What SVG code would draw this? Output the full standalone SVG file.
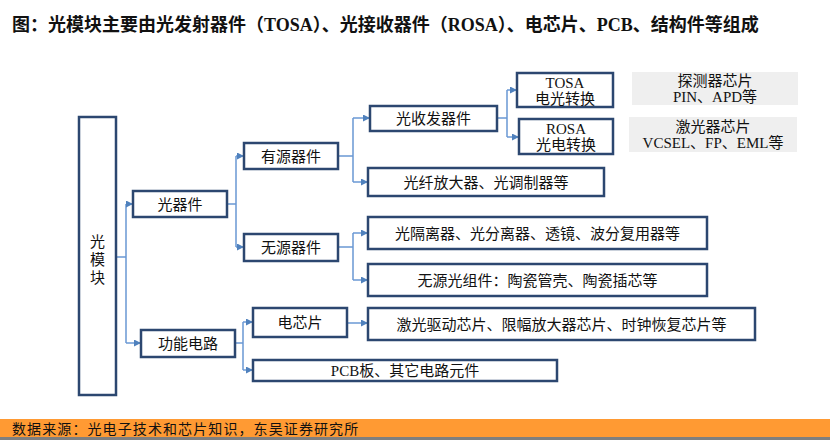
<svg xmlns="http://www.w3.org/2000/svg" width="830" height="440" viewBox="0 0 830 440">
<defs>
<marker id="arr" viewBox="0 0 10 10" refX="10" refY="5" markerWidth="7" markerHeight="7" markerUnits="userSpaceOnUse" orient="auto"><path d="M0,0 L10,5 L0,10 z" fill="#4F81BD"/></marker>
<style>
.box{fill:#fff;stroke:#2C4770;stroke-width:2.5}
.gray{fill:#EFEFEF;stroke:none}
.t{font-family:"Liberation Serif","Noto Sans CJK SC",serif;font-size:15px;fill:#111;text-anchor:middle}
.c{fill:none;stroke:#6A98D4;stroke-width:1.5}
.ca{fill:none;stroke:#6A98D4;stroke-width:1.5;marker-end:url(#arr)}
</style>
</defs>
<rect width="830" height="440" fill="#fff"/>
<text x="12" y="31" style="font-family:'Liberation Serif','Noto Sans CJK SC',serif;font-size:18px;font-weight:bold;fill:#111">图：光模块主要由光发射器件（TOSA）、光接收器件（ROSA）、电芯片、PCB、结构件等组成</text>

<g id="connectors">
<path class="c" d="M116,257 H126 M126,204 V343"/>
<path class="ca" d="M126,204 H133"/>
<path class="ca" d="M126,343 H141"/>
<path class="c" d="M227,204 H236 M236,156 V247"/>
<path class="ca" d="M236,156 H244"/>
<path class="ca" d="M236,247 H244"/>
<path class="c" d="M338,156 H353 M353,118 V182"/>
<path class="ca" d="M353,118 H370"/>
<path class="ca" d="M353,182 H368"/>
<path class="c" d="M497,118 H507 M507,90 V137"/>
<path class="ca" d="M507,90 H517"/>
<path class="ca" d="M507,137 H519"/>
<path class="c" d="M338,247 H353 M353,233 V280"/>
<path class="ca" d="M353,233 H368"/>
<path class="ca" d="M353,280 H368"/>
<path class="ca" d="M347,323 H368"/>
<path class="c" d="M235,343 H243 M243,322 V370"/>
<path class="ca" d="M243,322 H253"/>
<path class="ca" d="M243,370 H253"/>
</g>

<g id="n_module"><rect class="box" x="79" y="117" width="37" height="278"/>
<text class="t" x="97.5" y="247">光</text><text class="t" x="97.5" y="265">模</text><text class="t" x="97.5" y="283">块</text></g>
<g id="n_optical"><rect class="box" x="133" y="191" width="94" height="26"/><text class="t" x="180" y="209.5">光器件</text></g>
<g id="n_active"><rect class="box" x="244" y="143" width="94" height="26"/><text class="t" x="291" y="161.5">有源器件</text></g>
<g id="n_passive"><rect class="box" x="244" y="234" width="94" height="27"/><text class="t" x="291" y="253">无源器件</text></g>
<g id="n_func"><rect class="box" x="141" y="330" width="94" height="27"/><text class="t" x="188" y="349">功能电路</text></g>
<g id="n_chip"><rect class="box" x="253" y="308" width="94" height="29"/><text class="t" x="300" y="328">电芯片</text></g>
<g id="n_pcb"><rect class="box" x="253" y="360" width="304" height="21"/><text class="t" x="405" y="376">PCB板、其它电路元件</text></g>
<g id="n_trx"><rect class="box" x="370" y="106" width="127" height="25"/><text class="t" x="433.5" y="124">光收发器件</text></g>
<g id="n_amp"><rect class="box" x="368" y="168" width="236" height="28"/><text class="t" x="486" y="188">光纤放大器、光调制器等</text></g>
<g id="n_tosa"><rect class="box" x="517" y="73" width="96" height="34"/><text class="t" x="565" y="88">TOSA</text><text class="t" x="565" y="104">电光转换</text></g>
<g id="n_rosa"><rect class="box" x="519" y="119" width="94" height="35"/><text class="t" x="566" y="134">ROSA</text><text class="t" x="566" y="150">光电转换</text></g>
<g id="n_note1"><rect class="gray" x="632" y="72" width="166" height="33"/><text class="t" x="715" y="86">探测器芯片</text><text class="t" x="715" y="102">PIN、APD等</text></g>
<g id="n_note2"><rect class="gray" x="629" y="117" width="168" height="35"/><text class="t" x="713" y="132">激光器芯片</text><text class="t" x="713" y="148">VCSEL、FP、EML等</text></g>
<g id="n_iso"><rect class="box" x="368" y="217" width="339" height="32"/><text class="t" x="537.5" y="238.5">光隔离器、光分离器、透镜、波分复用器等</text></g>
<g id="n_pcomp"><rect class="box" x="368" y="264" width="339" height="32"/><text class="t" x="537.5" y="285.5">无源光组件：陶瓷管壳、陶瓷插芯等</text></g>
<g id="n_driver"><rect class="box" x="368" y="308" width="387" height="32"/><text class="t" x="561.5" y="329.5">激光驱动芯片、限幅放大器芯片、时钟恢复芯片等</text></g>

<rect x="0" y="419" width="830" height="18" fill="#FF9A33"/>
<rect x="0" y="437" width="830" height="3" fill="#7F7F7F"/>
<text x="12" y="434" style="font-family:'Liberation Serif','Noto Sans CJK SC',serif;font-size:14px;letter-spacing:1.1px;fill:#111">数据来源：光电子技术和芯片知识，东吴证券研究所</text>
</svg>
